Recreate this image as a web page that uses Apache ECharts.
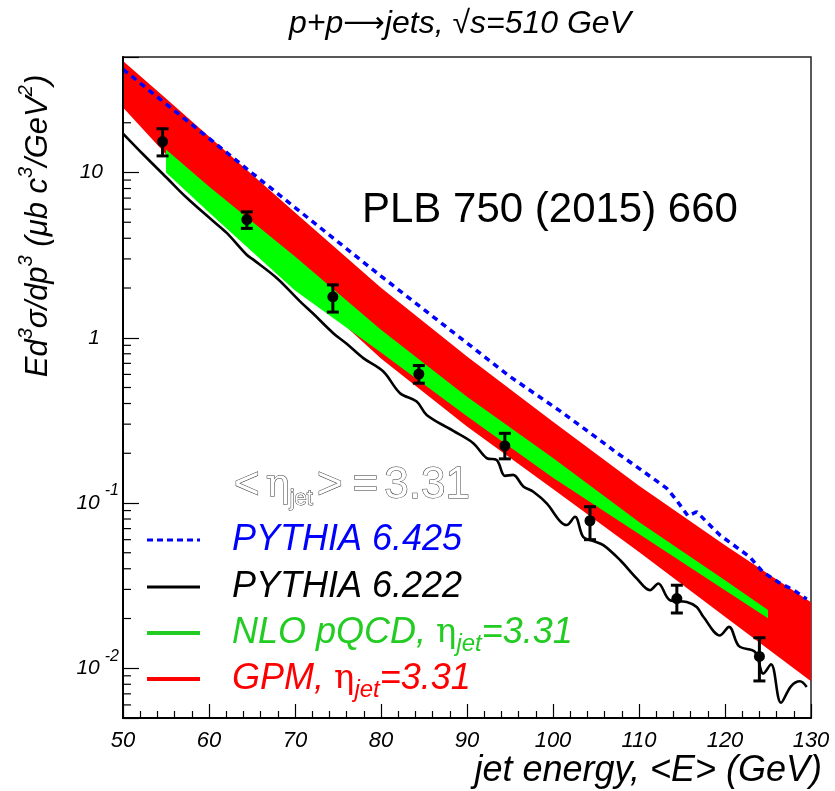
<!DOCTYPE html>
<html>
<head>
<meta charset="utf-8">
<script src="https://cdn.jsdelivr.net/npm/echarts@6/dist/echarts.min.js"></script>
<style>
html, body { margin: 0; background: #fff; }
#main { width: 835px; height: 791px; }
</style>
</head>
<body>
<div id="main"></div>
<script>
// PHENIX-style jet cross section
var dataX  = [54.6, 64.4, 74.4, 84.4, 94.4, 104.3, 114.4, 124.0];
var dataY  = [15.4, 5.19, 1.77, 0.603, 0.222, 0.0781, 0.0264, 0.0118];
var dataHi = [18.4, 5.78, 2.09, 0.679, 0.264, 0.095, 0.0318, 0.0153];
var dataLo = [12.6, 4.59, 1.43, 0.531, 0.185, 0.060, 0.0216, 0.00838];

// GPM band (red)
var gpmX  = [50, 55, 60, 70, 80, 90, 100, 110, 120, 130];
var gpmHi = [47.3, 28.0, 16.5, 5.72, 2.01, 0.771, 0.310, 0.127, 0.0556, 0.0251];
var gpmLo = [24.7, 12.9, 7.18, 2.24, 0.748, 0.290, 0.1216, 0.0505, 0.0205, 0.00834];

// NLO pQCD band (green)
var nloX  = [55, 60, 70, 80, 90, 100, 110, 120, 125];
var nloHi = [13.8, 8.22, 3.10, 1.117, 0.439, 0.1875, 0.0767, 0.0341, 0.0225];
var nloLo = [10.0, 5.72, 1.93, 0.815, 0.335, 0.142, 0.0649, 0.0297, 0.0201];

// PYTHIA 6.425 (blue dotted)
var py425X = [50, 55, 60, 65, 70, 75, 80, 85, 90, 95, 100.8, 105.8, 107.2, 110, 113.2, 114.2,
              115.7, 116.7, 119.4, 122.9, 124.4, 126.4, 128, 129.5];
var py425Y = [42.1, 26.0, 16.1, 9.93, 6.14, 3.80, 2.36, 1.479, 0.929, 0.582, 0.361, 0.233, 0.205,
              0.162, 0.123, 0.1067, 0.0834, 0.0885, 0.0640, 0.0471, 0.0382, 0.0327, 0.0297, 0.0262];

// PYTHIA 6.222 (black)
var py222X = [50.0, 52.36, 55.08, 57.41, 60.5, 62.06, 64.38, 65.15, 67.87, 70.58, 72.13, 74.45, 76.01,
              77.94, 80.27, 82.21, 84.15, 85.31, 88.41, 90.73, 92.29, 93.45, 94.42, 95.35, 96.55, 97.71,
              99.27, 100.81, 101.59, 102.56, 103.52, 104.69, 105.85, 107.79, 109.73, 111.28, 112.24,
              113.6, 115.55, 116.71, 117.48, 119.42, 120.47, 121.63, 123.49, 124.45, 125.35, 126.51,
              127.67, 128.72, 129.5];
var py222Y = [17.2, 12.85, 9.29, 7.03, 5.07, 4.31, 3.18, 2.97, 2.30, 1.66, 1.396, 1.066, 0.920,
              0.753, 0.625, 0.462, 0.411, 0.341, 0.273, 0.230, 0.187, 0.182, 0.146, 0.148, 0.126, 0.117,
              0.0995, 0.0778, 0.0736, 0.0826, 0.0622, 0.0589, 0.0556, 0.0452, 0.0350, 0.0297, 0.0326,
              0.0258, 0.0252, 0.0235, 0.0205, 0.0158, 0.0178, 0.0136, 0.01256, 0.00929, 0.01057, 0.00618,
              0.00778, 0.00834, 0.00771];

var xTicks = [50, 60, 70, 80, 90, 100, 110, 120, 130];

var FONT = "'Liberation Sans', Arial, Helvetica, sans-serif";

// minor ticks of the log axis (2..9 per decade), only up to 20 as in the figure
var yMinor = [];
for (var e = -3; e <= 1; e++) {
  for (var m = 2; m <= 9; m++) {
    var v = m * Math.pow(10, e);
    if (v > 0.0051 && v < 21) yMinor.push(v);
  }
}

function zip(a, b) {
  return a.map(function (x, i) { return [x, b[i]]; });
}

function band(xs, lo, hi, color) {
  return {
    type: 'custom',
    silent: true,
    clip: true,
    data: [[xs[0], lo[0]]],
    renderItem: function (params, api) {
      var pts = [];
      for (var i = 0; i < xs.length; i++) pts.push(api.coord([xs[i], hi[i]]));
      for (var j = xs.length - 1; j >= 0; j--) pts.push(api.coord([xs[j], lo[j]]));
      return { type: 'polygon', shape: { points: pts }, style: { fill: color } };
    }
  };
}

var chart = echarts.init(document.getElementById('main'));

var legendRows = [
  { y: 540, color: '#0000ff', dash: [6, 4], width: 3, text: 'PYTHIA 6.425' },
  { y: 587, color: '#000', dash: null, width: 3, text: 'PYTHIA 6.222' },
  { y: 633, color: '#22cc22', dash: null, width: 4, text: 'NLO pQCD, {g|η}{s|jet}{t|=3.31}' },
  { y: 679, color: '#ff0000', dash: null, width: 4, text: 'GPM, {g|η}{s|jet}{t|=3.31}' }
];

var hollow = { fill: '#fff', stroke: '#333', lineWidth: 1, fontFamily: FONT };

var graphics = [
  {
    type: 'text', x: 460, y: 24,
    style: {
      text: 'p+p{a|⟶}jets, √s=510 GeV', font: 'italic 32px ' + FONT, fill: '#000',
      align: 'center', verticalAlign: 'middle',
      rich: { a: { fontSize: 29, fontFamily: 'DejaVu Sans', fill: '#000' } }
    }
  },
  {
    type: 'text', x: 822, y: 771,
    style: { text: 'jet energy, <E> (GeV)', font: 'italic 36px ' + FONT, fill: '#000',
             align: 'right', verticalAlign: 'middle' }
  },
  {
    type: 'text', x: 38, y: 226, rotation: Math.PI / 2,
    style: {
      text: 'Ed{u|3}σ/dp{u|3} (μb c{u|3}/GeV{u|2})',
      font: 'italic 31px ' + FONT, fill: '#000', align: 'center', verticalAlign: 'middle',
      lineHeight: 44,
      rich: {
        u: { fontSize: 20, fontStyle: 'italic', fontFamily: FONT, lineHeight: 20, verticalAlign: 'top' }
      }
    }
  },
  {
    type: 'text', x: 362, y: 210,
    style: { text: 'PLB 750 (2015) 660', font: '42px ' + FONT, fill: '#000',
             align: 'left', verticalAlign: 'middle' }
  },
  {
    type: 'text', x: 230, y: 486,
    style: {
      text: '{o|<}{e|η}{s|jet}{o|>}{o|=}{d|3.31}', font: '40px ' + FONT,
      align: 'left', verticalAlign: 'middle', lineHeight: 48,
      rich: {
        o: Object.assign({ fontSize: 44, lineHeight: 48, padding: [0, 6, 0, 4] }, hollow),
        e: Object.assign({ fontSize: 40, lineHeight: 48 }, hollow, { fontFamily: 'DejaVu Serif' }),
        s: Object.assign({ fontSize: 22, lineHeight: 22, verticalAlign: 'bottom' }, hollow),
        d: Object.assign({ fontSize: 44, lineHeight: 48 }, hollow)
      }
    }
  }
];

legendRows.forEach(function (r) {
  graphics.push({
    type: 'line',
    shape: { x1: 147, y1: r.y, x2: 200, y2: r.y },
    style: { stroke: r.color, lineWidth: r.width, lineDash: r.dash }
  });
  graphics.push({
    type: 'text', x: 232, y: r.y,
    style: {
      text: r.text, font: 'italic 36px ' + FONT, fill: r.color, align: 'left', verticalAlign: 'middle',
      lineHeight: 46,
      rich: {
        g: { fontSize: 34, fontFamily: 'DejaVu Serif, serif', fill: r.color, lineHeight: 46 },
        s: { fontSize: 24, fontStyle: 'italic', fontFamily: FONT, fill: r.color, lineHeight: 24, verticalAlign: 'bottom' },
        t: { fontSize: 36, fontStyle: 'italic', fontFamily: FONT, fill: r.color, lineHeight: 46 }
      }
    }
  });
});

chart.setOption({
  backgroundColor: '#fff',
  animation: false,
  grid: {
    left: 123, right: 24, top: 57, bottom: 73,
    show: true, borderColor: '#222', borderWidth: 1.5, backgroundColor: 'transparent',
    outerBoundsMode: 'none'
  },
  xAxis: {
    type: 'value', min: 50, max: 130, interval: 10, z: 5,
    axisLine: { lineStyle: { color: '#000', width: 2 } },
    axisTick: { inside: true, length: 14, lineStyle: { color: '#000', width: 1.2 } },
    minorTick: { show: true, splitNumber: 5, length: 7, lineStyle: { color: '#000', width: 1.2 } },
    splitLine: { show: false },
    axisLabel: {
      margin: 12, color: '#000', fontSize: 22, fontStyle: 'italic', fontFamily: FONT,
      customValues: xTicks
    }
  },
  yAxis: {
    type: 'log', logBase: 10, min: 0.005, max: 50, z: 5,
    axisLine: { lineStyle: { color: '#000', width: 2 } },
    axisTick: { inside: true, length: 16, lineStyle: { color: '#000', width: 1.2 } },
    splitLine: { show: false },
    axisLabel: {
      margin: 4, color: '#000', fontFamily: FONT,
      formatter: function (val) {
        var lg = Math.log(val) / Math.LN10;
        var k = Math.round(lg);
        if (Math.abs(lg - k) > 1e-6) return '';
        if (k === 1) return '{a|10}';
        if (k === 0) return '{b|1}';
        return '{n|10}{s|' + k + '}';
      },
      rich: {
        a: { fontSize: 21, fontStyle: 'italic', fontFamily: FONT, padding: [0, 16, 0, 0] },
        b: { fontSize: 21, fontStyle: 'italic', fontFamily: FONT, padding: [0, 19, 0, 0] },
        n: { fontSize: 21, fontStyle: 'italic', fontFamily: FONT, lineHeight: 40 },
        s: { fontSize: 16, fontStyle: 'italic', fontFamily: FONT, lineHeight: 16,
             verticalAlign: 'top', padding: [0, 0, 0, 5] }
      }
    }
  },
  graphic: graphics,
  series: [
    band(gpmX, gpmLo, gpmHi, '#ff0000'),
    band(nloX, nloLo, nloHi, '#00ff00'),
    {
      type: 'line', data: zip(py425X, py425Y), showSymbol: false, silent: true,
      lineStyle: { color: '#0000ff', width: 3.5, type: [6, 5] }
    },
    {
      type: 'line', data: zip(py222X, py222Y), showSymbol: false, silent: true, smooth: 0.35,
      lineStyle: { color: '#000', width: 2.6 }
    },
    {
      type: 'custom', silent: true,
      data: dataX.map(function (x, i) { return [x, dataY[i], dataLo[i], dataHi[i]]; }),
      renderItem: function (params, api) {
        var top = api.coord([api.value(0), api.value(3)]);
        var bot = api.coord([api.value(0), api.value(2)]);
        var st = { stroke: '#000', lineWidth: 3 };
        return {
          type: 'group',
          children: [
            { type: 'line', shape: { x1: top[0], y1: top[1], x2: bot[0], y2: bot[1] }, style: st },
            { type: 'line', shape: { x1: top[0] - 6, y1: top[1], x2: top[0] + 6, y2: top[1] }, style: st },
            { type: 'line', shape: { x1: bot[0] - 6, y1: bot[1], x2: bot[0] + 6, y2: bot[1] }, style: st }
          ]
        };
      }
    },
    {
      type: 'scatter', data: zip(dataX, dataY), symbol: 'circle', symbolSize: 11, silent: true,
      itemStyle: { color: '#000', opacity: 1 }
    },
    {
      type: 'custom', silent: true, clip: false, z: 6,
      data: [[50, 1]],
      renderItem: function (params, api) {
        var kids = yMinor.map(function (v) {
          var p = api.coord([50, v]);
          return { type: 'line', shape: { x1: p[0], y1: p[1], x2: p[0] + 8, y2: p[1] },
                   style: { stroke: '#000', lineWidth: 1.2 } };
        });
        return { type: 'group', children: kids };
      }
    }
  ]
});
</script>
</body>
</html>
